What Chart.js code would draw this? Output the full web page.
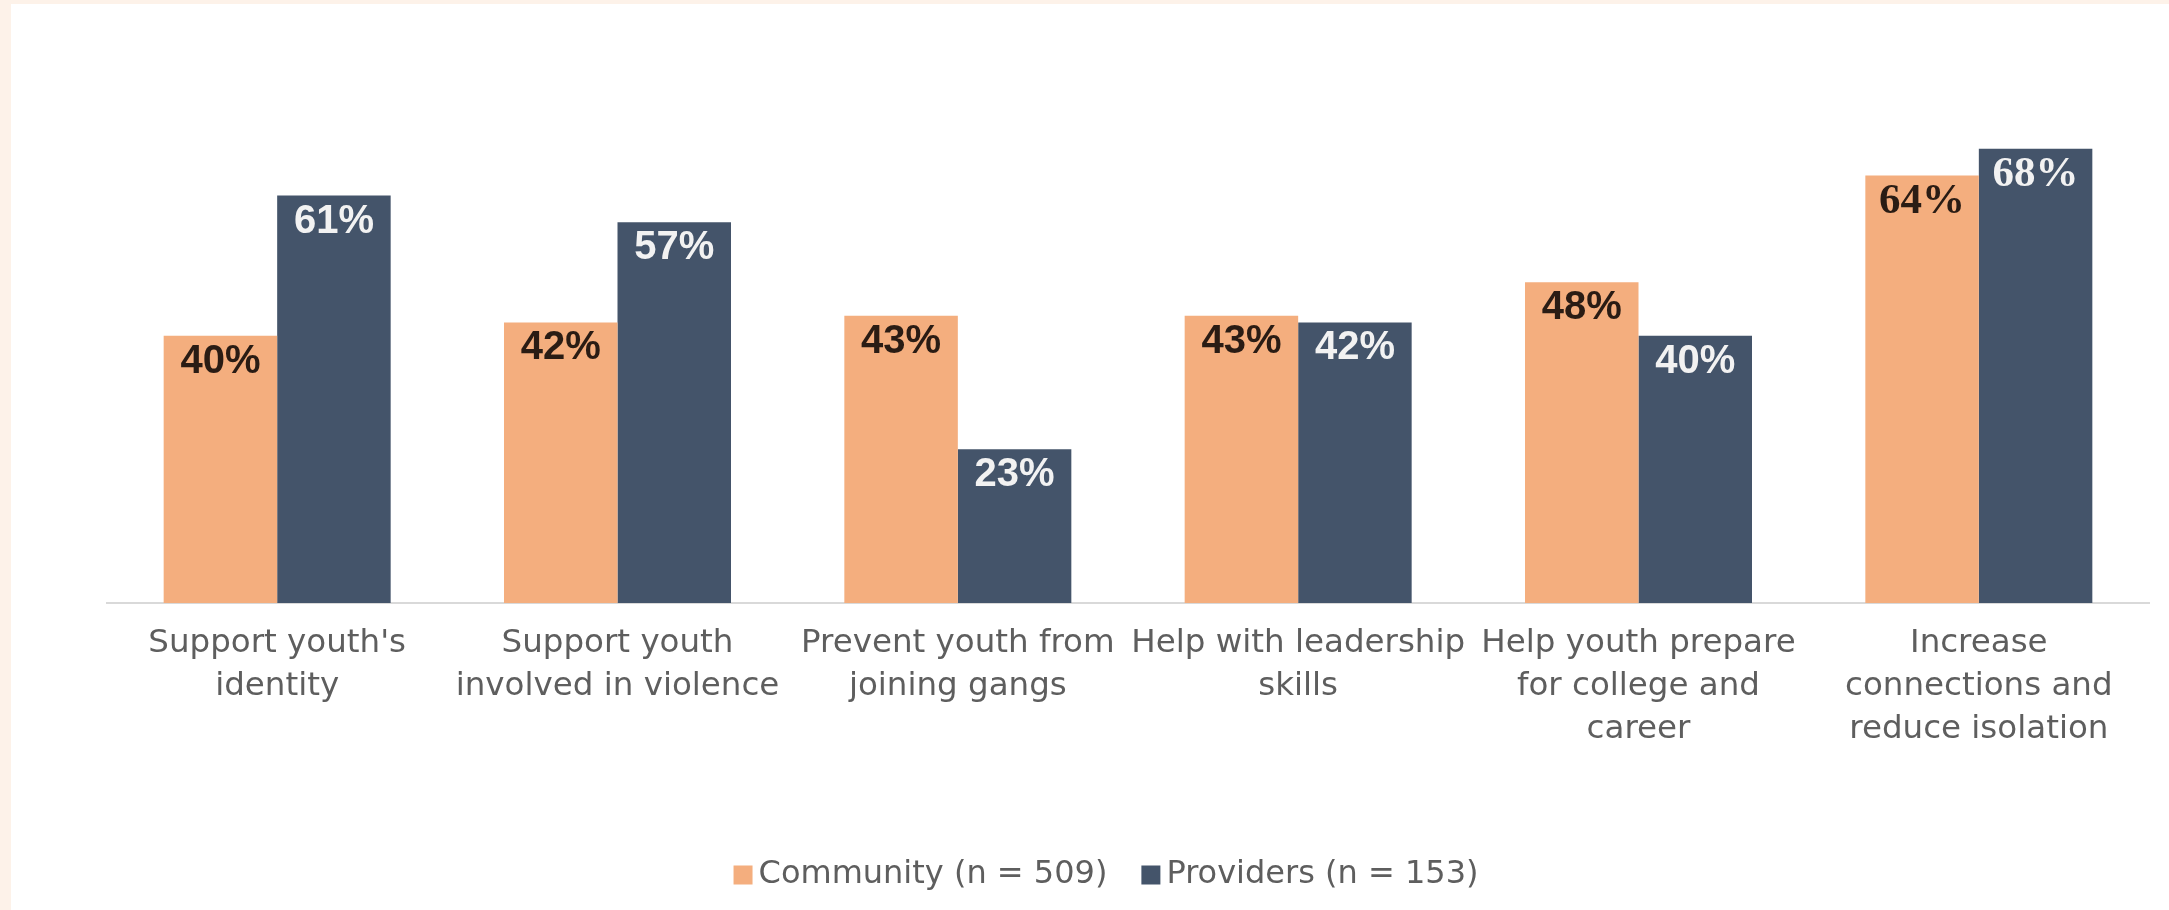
<!DOCTYPE html>
<html>
<head>
<meta charset="utf-8">
<script src="https://cdn.jsdelivr.net/npm/chart.js@4.4.0/dist/chart.umd.min.js"></script>
<style>
  html, body { margin: 0; padding: 0; width: 2169px; height: 910px; overflow: hidden; background: #FDF2E9; }
  #panel { position: absolute; left: 11px; top: 4px; width: 2158px; height: 906px; background: #ffffff; }
  canvas { display: block; }
</style>
</head>
<body>
<div id="panel"><canvas id="chart" width="2158" height="906"></canvas></div>
<script>
// Survey results: share of respondents choosing each program goal
const categories = [
  ["Support youth's", "identity"],
  ["Support youth", "involved in violence"],
  ["Prevent youth from", "joining gangs"],
  ["Help with leadership", "skills"],
  ["Help youth prepare", "for college and", "career"],
  ["Increase", "connections and", "reduce isolation"]
];
const seriesNames = ["Community (n = 509)", "Providers (n = 153)"];
const communityValues = [40, 42, 43, 43, 48, 64];
const providerValues = [61, 57, 23, 42, 40, 68];

const ORANGE = '#F4AE7E';
const NAVY = '#44546A';
const SANS = '"DejaVu Sans", sans-serif';
const ARIAL = '"Liberation Sans", Arial, sans-serif';
const SERIF = '"Liberation Serif", "Times New Roman", serif';

// Percent labels drawn inside the top of each bar
const barValueLabels = {
  id: 'barValueLabels',
  afterDatasetsDraw(chart, args, opts) {
    const ctx = chart.ctx;
    ctx.save();
    ctx.textAlign = 'center';
    ctx.textBaseline = 'middle';
    chart.data.datasets.forEach((ds, d) => {
      const meta = chart.getDatasetMeta(d);
      meta.data.forEach((bar, i) => {
        const last = i === categories.length - 1;
        ctx.font = last ? 'bold 43px ' + SERIF : 'bold 40px ' + ARIAL;
        ctx.fillStyle = opts.colors[d];
        ctx.fillText(ds.data[i] + '%', bar.x, bar.y + 26);
      });
    });
    ctx.restore();
  }
};

// Compact legend: small square right next to its text
const compactLegend = {
  id: 'compactLegend',
  afterDraw(chart, args, opts) {
    const ctx = chart.ctx;
    ctx.save();
    ctx.font = opts.font;
    ctx.textBaseline = 'middle';
    ctx.textAlign = 'left';
    const items = chart.data.datasets.map(ds => ({
      text: ds.label, color: ds.backgroundColor, w: ctx.measureText(ds.label).width
    }));
    const total = items.reduce((s, it) => s + opts.box + opts.textGap + it.w, 0) + opts.itemGap * (items.length - 1);
    let x = opts.centerX - total / 2;
    const y = opts.y;
    items.forEach(it => {
      ctx.fillStyle = it.color;
      ctx.fillRect(x, y - opts.box / 2, opts.box, opts.box);
      x += opts.box + opts.textGap;
      ctx.fillStyle = opts.color;
      ctx.fillText(it.text, x, y);
      x += it.w + opts.itemGap;
    });
    ctx.restore();
  }
};

new Chart(document.getElementById('chart'), {
  type: 'bar',
  data: {
    labels: categories,
    datasets: [
      { label: seriesNames[0], data: communityValues, backgroundColor: ORANGE },
      { label: seriesNames[1], data: providerValues, backgroundColor: NAVY }
    ]
  },
  options: {
    responsive: false,
    maintainAspectRatio: false,
    animation: false,
    layout: { padding: { top: 64.6, left: 96, right: 20, bottom: 0 } },
    datasets: { bar: { categoryPercentage: 0.667, barPercentage: 1.0 } },
    scales: {
      x: {
        grid: { display: false, drawTicks: false },
        border: { display: true, color: '#D9D9D9', width: 2 },
        ticks: {
          autoSkip: false, maxRotation: 0, minRotation: 0,
          padding: 19,
          color: '#5E5E5E',
          font: { family: SANS, size: 32.5, lineHeight: '43px' }
        },
        afterFit(scale) { scale.height = 307; }
      },
      y: { display: false, min: 0, max: 80 }
    },
    plugins: {
      legend: { display: false },
      tooltip: { enabled: false },
      barValueLabels: { colors: ['#2A1C14', '#F2F2F2'] },
      compactLegend: {
        font: '32px ' + SANS, color: '#5E5E5E',
        box: 19, textGap: 6, itemGap: 34, centerX: 1095, y: 871
      }
    }
  },
  plugins: [barValueLabels, compactLegend]
});
</script>
</body>
</html>
